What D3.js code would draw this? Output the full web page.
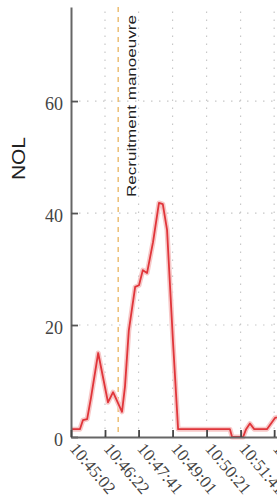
<!DOCTYPE html>
<html>
<head>
<meta charset="utf-8">
<script src="https://cdn.jsdelivr.net/npm/d3@7"></script>
<style>
  body { margin: 0; background: #fff; overflow: hidden; }
</style>
</head>
<body>
<div id="chart"></div>
<script>
const WIDTH = 277
const HEIGHT = 498

// NOL samples
const times = ['10:45:02', '10:45:23', '10:45:30', '10:45:40', '10:45:49', '10:46:06',
    '10:46:29', '10:46:41', '10:47:02', '10:47:09', '10:47:18', '10:47:33', '10:47:42',
    '10:47:51', '10:48:01', '10:48:15', '10:48:29', '10:48:38', '10:48:48', '10:49:02',
    '10:49:14', '10:51:16', '10:51:21', '10:51:47', '10:51:54', '10:52:03', '10:52:13',
    '10:52:43', '10:53:02', '10:53:30']
const nol = [1.4, 1.4, 3.0, 3.2, 7.0, 15.0,
    6.2, 8.0, 4.5, 9.0, 19.0, 26.8, 27.1,
    29.8, 29.3, 34.8, 41.8, 41.6, 37.0, 17.0,
    1.4, 1.4, 0.0, 0.0, 1.4, 2.4, 1.4,
    1.4, 3.4, 4.0]

const xTickLabels = ['10:45:02', '10:46:22', '10:47:41', '10:49:01', '10:50:21', '10:51:41', '10:53:00']
const yTicks = [0, 20, 40, 60]
const markerTime = '10:46:53'
const markerLabel = 'Recruitment manoeuvre'
const yLabel = 'NOL'

const parseTime = d3.timeParse('%H:%M:%S')

const svg = d3.select('#chart')
    .append('svg')
    .attr('width', WIDTH)
    .attr('height', HEIGHT)

const xScale = d3
    .scaleTime()
    .domain([parseTime('10:45:02'), parseTime('10:54:02')])
    .range([71, 71 + 540 * 0.425])

const yScale = d3
    .scaleLinear()
    .domain([0, 76.8])
    .range([437, 7])

// dotted grid
const grid = svg.append('g')
    .attr('stroke', '#c8c8c8')
    .attr('stroke-width', 1.2)
    .attr('stroke-dasharray', '1.5,6.5')
grid.selectAll('.vgrid')
    .data(xTickLabels.slice(1))
    .join('line')
    .attr('x1', d => xScale(parseTime(d)))
    .attr('x2', d => xScale(parseTime(d)))
    .attr('y1', yScale(0))
    .attr('y2', 7)
grid.selectAll('.hgrid')
    .data(yTicks.slice(1))
    .join('line')
    .attr('x1', 71)
    .attr('x2', WIDTH)
    .attr('y1', d => yScale(d))
    .attr('y2', d => yScale(d))

// recruitment marker
const mx = xScale(parseTime(markerTime))
svg.append('line')
    .attr('x1', mx)
    .attr('x2', mx)
    .attr('y1', 7)
    .attr('y2', yScale(0))
    .attr('stroke', '#e9b35e')
    .attr('stroke-width', 1.3)
    .attr('stroke-dasharray', '5,5')

svg.append('text')
    .attr('transform', `translate(${mx + 18}, 197) rotate(-90)`)
    .attr('font-family', 'Liberation Sans, Arial, sans-serif')
    .attr('font-size', 12)
    .attr('fill', '#222')
    .attr('textLength', 182)
    .attr('lengthAdjust', 'spacingAndGlyphs')
    .text(markerLabel)

// NOL series
const data = times.map((t, i) => ({ t: parseTime(t), v: nol[i] }))
const line = d3.line()
    .x(d => xScale(d.t))
    .y(d => yScale(d.v))

svg.append('path')
    .datum(data)
    .attr('fill', 'none')
    .attr('stroke', '#f7c8c8')
    .attr('stroke-width', 5)
    .attr('stroke-linejoin', 'round')
    .attr('d', line)
svg.append('path')
    .datum(data)
    .attr('fill', 'none')
    .attr('stroke', '#e0353a')
    .attr('stroke-width', 1.8)
    .attr('stroke-linejoin', 'round')
    .attr('d', line)

// axes
const yAxis = svg.append('g')
    .attr('transform', 'translate(71, 0)')
    .call(d3.axisRight(yScale).tickValues(yTicks).tickSize(7).tickSizeOuter(0).tickFormat(''))
yAxis.select('.domain').attr('stroke', '#666').attr('stroke-width', 2)
yAxis.selectAll('.tick line').attr('stroke', '#555').attr('stroke-width', 1.8)

svg.selectAll('.ylab')
    .data(yTicks)
    .join('text')
    .attr('x', 63)
    .attr('y', d => yScale(d) + 9)
    .attr('text-anchor', 'end')
    .attr('font-family', 'Liberation Serif, Times New Roman, serif')
    .attr('font-size', 18)
    .attr('fill', '#444')
    .text(d => d)

const xAxis = svg.append('g')
    .attr('transform', `translate(0, ${yScale(0)})`)
    .call(d3.axisTop(xScale)
        .tickValues(xTickLabels.map(parseTime))
        .tickSize(7)
        .tickSizeOuter(0)
        .tickFormat(''))
xAxis.select('.domain').attr('stroke', '#666').attr('stroke-width', 2)
xAxis.selectAll('.tick line').attr('stroke', '#444').attr('stroke-width', 1.8)

svg.selectAll('.xlab')
    .data(xTickLabels)
    .join('text')
    .attr('transform', d => `translate(${xScale(parseTime(d)) - 2}, ${yScale(0) + 12}) rotate(50)`)
    .attr('font-family', 'Liberation Serif, Times New Roman, serif')
    .attr('font-size', 17)
    .attr('fill', '#444')
    .text(d => d)

svg.append('text')
    .attr('transform', `translate(25, 180) rotate(-90)`)
    .attr('font-family', 'Liberation Sans, Arial, sans-serif')
    .attr('font-size', 18)
    .attr('fill', '#222')
    .attr('textLength', 43)
    .attr('lengthAdjust', 'spacingAndGlyphs')
    .text(yLabel)
</script>
</body>
</html>
